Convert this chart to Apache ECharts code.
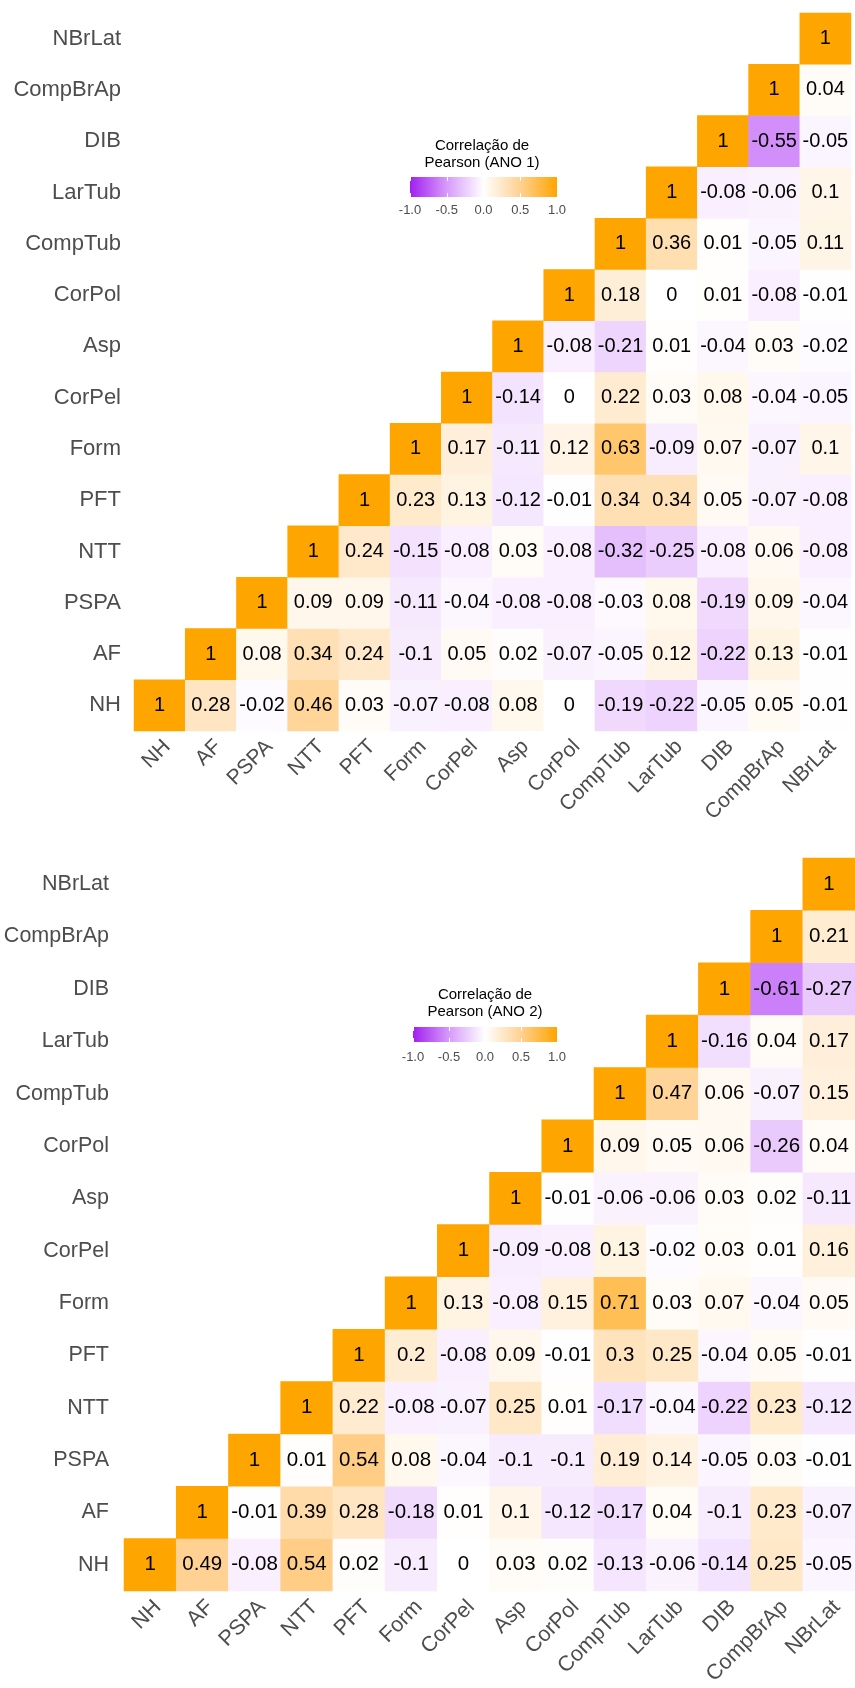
<!DOCTYPE html>
<html>
<head>
<meta charset="utf-8">
<script src="https://cdn.jsdelivr.net/npm/echarts@6/dist/echarts.min.js"></script>
<style>
  html, body { margin: 0; padding: 0; background: #ffffff; }
  #chart { width: 855px; height: 1688px; }
</style>
</head>
<body>
<div id="chart"></div>
<script>
// Trait names, bottom-to-top on the y axis and left-to-right on the x axis
const variables = ['NH', 'AF', 'PSPA', 'NTT', 'PFT', 'Form', 'CorPel', 'Asp',
                   'CorPol', 'CompTub', 'LarTub', 'DIB', 'CompBrAp', 'NBrLat'];

// Pearson correlations, year 1. Row i starts on the diagonal (columns i..13).
const corrAno1 = [
  [1, 0.28, -0.02, 0.46, 0.03, -0.07, -0.08, 0.08, 0, -0.19, -0.22, -0.05, 0.05, -0.01], // NH
  [1, 0.08, 0.34, 0.24, -0.1, 0.05, 0.02, -0.07, -0.05, 0.12, -0.22, 0.13, -0.01],      // AF
  [1, 0.09, 0.09, -0.11, -0.04, -0.08, -0.08, -0.03, 0.08, -0.19, 0.09, -0.04],         // PSPA
  [1, 0.24, -0.15, -0.08, 0.03, -0.08, -0.32, -0.25, -0.08, 0.06, -0.08],               // NTT
  [1, 0.23, 0.13, -0.12, -0.01, 0.34, 0.34, 0.05, -0.07, -0.08],                         // PFT
  [1, 0.17, -0.11, 0.12, 0.63, -0.09, 0.07, -0.07, 0.1],                                 // Form
  [1, -0.14, 0, 0.22, 0.03, 0.08, -0.04, -0.05],                                         // CorPel
  [1, -0.08, -0.21, 0.01, -0.04, 0.03, -0.02],                                           // Asp
  [1, 0.18, 0, 0.01, -0.08, -0.01],                                                      // CorPol
  [1, 0.36, 0.01, -0.05, 0.11],                                                          // CompTub
  [1, -0.08, -0.06, 0.1],                                                                // LarTub
  [1, -0.55, -0.05],                                                                     // DIB
  [1, 0.04],                                                                             // CompBrAp
  [1]                                                                                    // NBrLat
];

// Pearson correlations, year 2
const corrAno2 = [
  [1, 0.49, -0.08, 0.54, 0.02, -0.1, 0, 0.03, 0.02, -0.13, -0.06, -0.14, 0.25, -0.05],  // NH
  [1, -0.01, 0.39, 0.28, -0.18, 0.01, 0.1, -0.12, -0.17, 0.04, -0.1, 0.23, -0.07],      // AF
  [1, 0.01, 0.54, 0.08, -0.04, -0.1, -0.1, 0.19, 0.14, -0.05, 0.03, -0.01],             // PSPA
  [1, 0.22, -0.08, -0.07, 0.25, 0.01, -0.17, -0.04, -0.22, 0.23, -0.12],                // NTT
  [1, 0.2, -0.08, 0.09, -0.01, 0.3, 0.25, -0.04, 0.05, -0.01],                           // PFT
  [1, 0.13, -0.08, 0.15, 0.71, 0.03, 0.07, -0.04, 0.05],                                 // Form
  [1, -0.09, -0.08, 0.13, -0.02, 0.03, 0.01, 0.16],                                      // CorPel
  [1, -0.01, -0.06, -0.06, 0.03, 0.02, -0.11],                                           // Asp
  [1, 0.09, 0.05, 0.06, -0.26, 0.04],                                                    // CorPol
  [1, 0.47, 0.06, -0.07, 0.15],                                                          // CompTub
  [1, -0.16, 0.04, 0.17],                                                                // LarTub
  [1, -0.61, -0.27],                                                                     // DIB
  [1, 0.21],                                                                             // CompBrAp
  [1]                                                                                    // NBrLat
];

// Colour bar range and tick labels
const legendRange = [-1, 1];
const legendTicks = [-1, -0.5, 0, 0.5, 1];
const legendTitles = ['Correlação de\nPearson (ANO 1)', 'Correlação de\nPearson (ANO 2)'];

// Diverging palette purple - white - orange, evenly spaced over [-1, 1]
const palette = ['#A020F0', '#D79AFA', '#FFFFFF', '#FFD191', '#FFA500'];

const FONT = '"Liberation Sans", Arial, Helvetica, sans-serif';
const AXIS_GREY = '#4D4D4D';

// [x index, y index, r] triples for the upper triangle
function toCells(matrix) {
  const cells = [];
  matrix.forEach((row, i) => {
    row.forEach((r, k) => cells.push([i + k, i, r]));
  });
  return cells;
}

const chart = echarts.init(document.getElementById('chart'), null, { renderer: 'canvas' });

const panels = [
  { grid: { left: 134, top: 13, width: 717, height: 718 }, cells: toCells(corrAno1),
    fs: 20, xFs: 21, yFs: 22, yMargin: 13,
    legendGrid: { left: 410, top: 177, width: 147, height: 20 }, legendMargin: 7,
    titleX: 482, titleY: 137 },
  { grid: { left: 124, top: 858, width: 735, height: 734 }, cells: toCells(corrAno2),
    fs: 20.5, xFs: 21.5, yFs: 21.5, yMargin: 15,
    legendGrid: { left: 413, top: 1027, width: 144, height: 15 }, legendMargin: 9,
    titleX: 485, titleY: 986 }
];

const grids = [], xAxes = [], yAxes = [], series = [], graphics = [];

panels.forEach((p, n) => {
  grids.push(p.grid);
  xAxes.push({
    gridIndex: n, type: 'category', data: variables,
    axisLine: { show: false }, axisTick: { show: false }, splitLine: { show: false },
    axisLabel: { rotate: 45, fontSize: p.xFs, color: AXIS_GREY, fontFamily: FONT,
                 margin: 5, interval: 0, align: 'right', verticalAlign: 'top' }
  });
  yAxes.push({
    gridIndex: n, type: 'category', data: variables,
    axisLine: { show: false }, axisTick: { show: false }, splitLine: { show: false },
    axisLabel: { fontSize: p.yFs, color: AXIS_GREY, fontFamily: FONT, margin: p.yMargin, interval: 0 }
  });
  series.push({
    type: 'heatmap', xAxisIndex: n, yAxisIndex: n, data: p.cells,
    label: {
      show: true, fontSize: p.fs, color: '#000000', fontFamily: FONT,
      formatter: (d) => String(d.value[2])
    },
    itemStyle: { borderWidth: 0 },
    emphasis: { disabled: true }
  });
});

// Colour bars: one small grid per panel with a value axis carrying the tick labels
panels.forEach((p, n) => {
  const gi = grids.length;
  grids.push(p.legendGrid);
  const tickStyle = { show: true, inside: true, length: 4, lineStyle: { color: '#ffffff', width: 1 } };
  const xi = xAxes.length;
  xAxes.push({
    gridIndex: gi, type: 'value', min: legendRange[0], max: legendRange[1], interval: 0.5,
    position: 'bottom', z: 10,
    axisLine: { show: false }, axisTick: tickStyle, splitLine: { show: false },
    axisLabel: { formatter: (v) => v.toFixed(1), fontSize: 13, color: AXIS_GREY, fontFamily: FONT,
                 margin: p.legendMargin, customValues: legendTicks }
  });
  xAxes.push({
    gridIndex: gi, type: 'value', min: legendRange[0], max: legendRange[1], interval: 0.5,
    position: 'top', z: 10,
    axisLine: { show: false }, axisTick: tickStyle, splitLine: { show: false }, axisLabel: { show: false }
  });
  const yi = yAxes.length;
  yAxes.push({ gridIndex: gi, type: 'value', min: 0, max: 1, show: false });
  series.push({
    type: 'custom', xAxisIndex: xi, yAxisIndex: yi, silent: true,
    data: [[legendRange[0], legendRange[1]]],
    encode: { x: [0, 1] },
    renderItem: (params, api) => {
      const a = api.coord([api.value(0), 0]);
      const b = api.coord([api.value(1), 1]);
      const stops = palette.map((c, k) => ({ offset: k / (palette.length - 1), color: c }));
      return {
        type: 'rect',
        shape: { x: a[0], y: b[1], width: b[0] - a[0], height: a[1] - b[1] },
        style: { fill: new echarts.graphic.LinearGradient(0, 0, 1, 0, stops) }
      };
    }
  });
  graphics.push({
    type: 'text', x: p.titleX, y: p.titleY,
    style: { text: legendTitles[n], align: 'center', verticalAlign: 'top',
             font: '15px ' + FONT, fill: '#000000', lineHeight: 17 }
  });
});

chart.setOption({
  backgroundColor: '#ffffff',
  animation: false,
  grid: grids,
  xAxis: xAxes,
  yAxis: yAxes,
  visualMap: {
    type: 'continuous', show: false, min: legendRange[0], max: legendRange[1],
    dimension: 2, seriesIndex: [0, 1], inRange: { color: palette }
  },
  series: series,
  graphic: graphics
});
</script>
</body>
</html>
